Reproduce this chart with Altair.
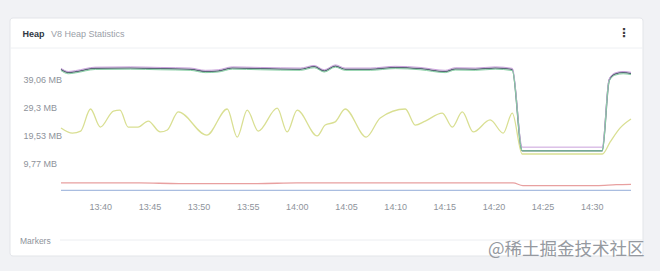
import altair as alt
import pandas as pd

DAY = "2024-01-01T"

# used heap (yellow-green)
used_times = ["13:36:00", "13:37:10", "13:38:00", "13:39:00", "13:40:00", "13:41:20", "13:42:00",
              "13:42:50", "13:43:50", "13:44:53", "13:46:06", "13:46:49", "13:47:56", "13:50:50",
              "13:52:55", "13:53:56", "13:54:57", "13:56:04", "13:58:00", "13:59:01", "14:00:02",
              "14:02:04", "14:02:53", "14:03:54", "14:04:55", "14:07:03", "14:08:29", "14:11:02",
              "14:12:03", "14:13:04", "14:14:48", "14:15:49", "14:16:50", "14:17:57", "14:19:40",
              "14:21:00", "14:21:55", "14:22:56", "14:31:05", "14:31:53", "14:32:54", "14:34:00"]
used_mb = [22.0, 20.2, 20.9, 28.6, 22.3, 27.9, 28.2,
           22.3, 22.3, 24.4, 20.6, 21.3, 27.6, 19.5,
           28.6, 18.8, 28.2, 20.9, 28.9, 20.6, 28.2,
           19.2, 23.0, 24.1, 28.6, 18.8, 25.5, 28.6,
           23.0, 24.4, 27.2, 22.3, 27.6, 20.6, 24.8,
           20.2, 27.2, 12.9, 12.9, 17.1, 22.0, 25.1]

# total heap lines (three overlapping series)
top_times = ["13:36:00", "13:36:45", "13:37:28", "13:39:29", "13:43:03", "13:46:06", "13:49:09",
             "13:50:41", "13:52:00", "13:53:26", "13:56:17", "14:00:21", "14:01:46", "14:02:47",
             "14:03:55", "14:04:55", "14:07:28", "14:10:01", "14:12:33", "14:15:06", "14:16:07",
             "14:18:09", "14:20:11", "14:21:55", "14:22:56", "14:31:04", "14:31:47", "14:32:23",
             "14:33:12", "14:34:00"]
dark_mb = [42.4, 41.3, 41.6, 42.8, 42.9, 42.7, 42.5, 41.7, 41.9, 42.9,
           42.7, 42.5, 43.4, 41.9, 43.6, 42.5, 42.5, 43.1, 42.7, 41.7,
           42.6, 42.5, 42.9, 42.4, 14.0, 14.0, 38.7, 40.8, 41.3, 41.0]
purple_mb = [42.8, 41.7, 42.0, 43.2, 43.3, 43.1, 42.9, 42.1, 42.3, 43.3,
             43.1, 42.9, 43.8, 42.3, 44.0, 42.9, 42.9, 43.5, 43.1, 42.1,
             43.0, 42.9, 43.3, 42.8, 15.3, 15.3, 39.1, 41.2, 41.7, 41.4]
green_mb = [42.0, 40.9, 41.2, 42.4, 42.5, 42.3, 42.1, 41.3, 41.5, 42.5,
            42.3, 42.1, 43.0, 41.5, 43.2, 42.1, 42.1, 42.7, 42.3, 41.3,
            42.2, 42.1, 42.5, 42.0, 14.0, 14.0, 38.3, 40.4, 40.9, 40.6]

# external memory (red) and small series (blue)
red_times = ["13:36:00", "13:44:00", "13:48:00", "13:56:00", "14:00:00", "14:22:00", "14:23:00",
             "14:30:30", "14:32:30", "14:34:00"]
red_mb = [2.8, 2.8, 2.6, 2.6, 2.8, 2.8, 1.9, 1.9, 2.2, 2.3]
blue_times = ["13:36:00", "14:34:00"]
blue_mb = [0.25, 0.25]

X_TICKS = ["13:40", "13:45", "13:50", "13:55", "14:00", "14:05", "14:10", "14:15", "14:20",
           "14:25", "14:30"]
TICK_VALUES = [9.765625, 19.53125, 29.296875, 39.0625]
TICK_LABELS = ["9,77 MB", "19,53 MB", "29,3 MB", "39,06 MB"]

FONT = "Liberation Sans"
LABEL_GREY = "#8e939b"


def frame(times, values):
    return pd.DataFrame({"t": pd.to_datetime([DAY + s for s in times]), "v": values})


def dt(hhmm):
    h, m = hhmm.split(":")
    return alt.DateTime(year=2024, month=1, date=1, hours=int(h), minutes=int(m))


label_expr = ("[" + ",".join(f"'{l}'" for l in TICK_LABELS) + "][indexof(["
              + ",".join(str(v) for v in TICK_VALUES) + "], datum.value)]")

x_enc = alt.X("t:T", title=None, scale=alt.Scale(nice=False),
              axis=alt.Axis(format="%H:%M", values=[dt(s) for s in X_TICKS],
                            domain=False, ticks=False, tickSize=0, grid=False,
                            labelPadding=11, labelFontSize=9, labelFont=FONT,
                            labelColor=LABEL_GREY, zindex=1))
y_enc = alt.Y("v:Q", title=None, scale=alt.Scale(domain=[0, 46.4], nice=False, zero=False),
              axis=alt.Axis(values=TICK_VALUES, labelExpr=label_expr, domain=False, ticks=False,
                            tickSize=0, grid=False, labelAlign="left", labelBaseline="middle",
                            labelPadding=38, labelFontSize=9, labelFont=FONT,
                            labelColor=LABEL_GREY, zindex=1))


def line(times, values, color, width=1.3):
    return alt.Chart(frame(times, values)).mark_line(
        color=color, strokeWidth=width, interpolate="monotone"
    ).encode(x=x_enc, y=y_enc)


one = pd.DataFrame({"a": [0]})

card = alt.Chart(one).mark_rect(fill="white", stroke="#e3e5e9", strokeWidth=1, cornerRadius=3).encode(
    x=alt.value(-51), x2=alt.value(582), y=alt.value(-40), y2=alt.value(198))
head_rule = alt.Chart(one).mark_rule(color="#eef0f3", strokeWidth=1).encode(
    x=alt.value(-51), x2=alt.value(582), y=alt.value(-10))
marker_rule = alt.Chart(one).mark_rule(color="#eceef1", strokeWidth=1).encode(
    x=alt.value(-1), x2=alt.value(582), y=alt.value(182))


def label(text, x, y, size=9, color=LABEL_GREY, weight="normal", font=FONT, align="left"):
    return alt.Chart(one).mark_text(text=text, fontSize=size, color=color, fontWeight=weight,
                                    font=font, align=align, baseline="middle").encode(
        x=alt.value(x), y=alt.value(y))


title_main = label("Heap", -38.5, -24, size=9, color="#2f3744", weight="bold")
title_sub = label("V8 Heap Statistics", -10, -24, size=9, color="#9aa0a8")
kebab = label("⋮", 563, -25.5, size=12, color="#3a3a3a", weight="bold", font="DejaVu Sans",
              align="center")
markers = label("Markers", -41, 182.5, size=8.5, color="#8e939b")
watermark = label("@稀土掘金技术社区", 427, 192, size=17.5, color="#9599a0",
                  font="Noto Sans CJK SC")

chart = alt.layer(
    card, head_rule, marker_rule, title_main, title_sub, kebab, markers,
    line(blue_times, blue_mb, "#a9bde0"),
    line(red_times, red_mb, "#e8a0a0"),
    line(used_times, used_mb, "#d9df92"),
    line(top_times, dark_mb, "#5a6778", 1.5),
    line(top_times, purple_mb, "#c9a0db", 1.0),
    line(top_times, green_mb, "#86cfa3", 1.0),
    watermark,
).properties(
    width=570, height=133,
    autosize=alt.AutoSizeParams(type="none"),
    padding={"left": 61, "top": 58, "right": 29, "bottom": 80},
    background="#f1f2f5",
).configure_view(strokeWidth=0)

chart.save("out.html", embed_options={"renderer": "svg", "actions": False})
